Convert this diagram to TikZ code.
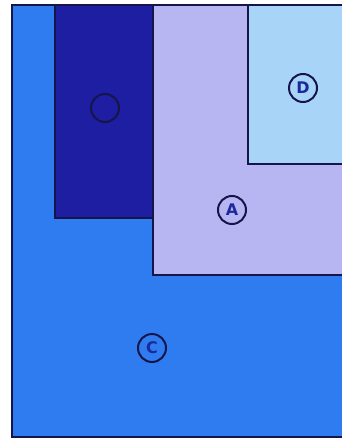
\documentclass[tikz,border=0pt]{standalone}
\usepackage{fontspec}
\setmainfont{DejaVu Sans}
\definecolor{cblue}{HTML}{2F7BF0}
\definecolor{bnavy}{HTML}{1E1EA2}
\definecolor{alav}{HTML}{B8B6F2}
\definecolor{dlight}{HTML}{A8D4F8}
\definecolor{edge}{HTML}{15154A}
\definecolor{letter}{HTML}{1A2A9A}
\begin{document}
\begin{tikzpicture}[x=1pt,y=-1pt,
  region/.style={draw=edge,line width=1.6pt},
  tag/.style={circle,draw=edge,line width=2pt,minimum size=28pt,inner sep=0pt,
    text=letter,font=\bfseries\fontsize{16}{16}\selectfont}]
\useasboundingbox (0,0) rectangle (342,439);
\fill[white] (0,0) rectangle (342,439);
% C background
\fill[cblue] (12,5) rectangle (342,437);
% dark rectangle (B)
\path[region,fill=bnavy] (55,5) rectangle (153,218);
% A region
\path[region,fill=alav] (153,5) rectangle (343,275);
% D region
\path[region,fill=dlight] (248,5) rectangle (343,164);
% outer frame
\draw[edge,line width=1.8pt] (343,5) -- (12,5) -- (12,437) -- (343,437);
% labels
\node[tag] (b) at (105,108) {};
\node[tag] (a) at (232,210) {A};
\node[tag] (d) at (303,88) {D};
\node[tag] (c) at (152,348) {C};
\end{tikzpicture}
\end{document}
